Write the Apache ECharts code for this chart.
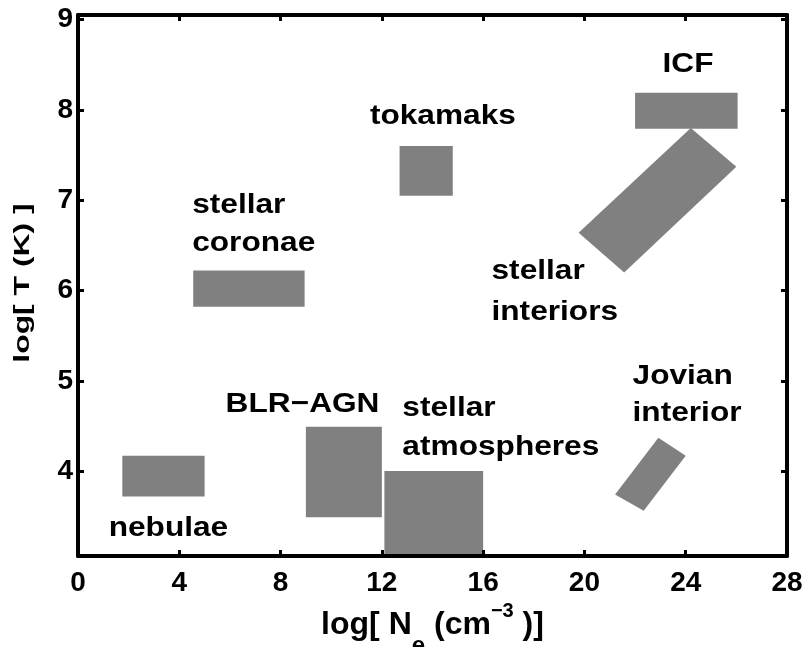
<!DOCTYPE html>
<html>
<head>
<meta charset="utf-8">
<script src="https://cdn.jsdelivr.net/npm/echarts@6/dist/echarts.min.js"></script>
<style>html,body{margin:0;padding:0;background:#fff;}#c{width:806px;height:647px;}</style>
</head>
<body>
<div id="c"></div>
<script>
// x ticks / y ticks
const xTicks = [0, 4, 8, 12, 16, 20, 24, 28];
const yTicks = [4, 5, 6, 7, 8, 9];

// Regions: vertices as [log Ne, log T]
const nebulae            = [[1.75, 3.72], [5.0, 3.72], [5.0, 4.17], [1.75, 4.17]];
const stellarCoronae     = [[4.55, 5.82], [8.95, 5.82], [8.95, 6.22], [4.55, 6.22]];
const blrAgn             = [[9.0, 3.49], [12.0, 3.49], [12.0, 4.49], [9.0, 4.49]];
const stellarAtmospheres = [[12.1, 3.0], [16.0, 3.0], [16.0, 4.0], [12.1, 4.0]];
const tokamaks           = [[12.7, 7.05], [14.8, 7.05], [14.8, 7.6], [12.7, 7.6]];
const icf                = [[22.0, 7.79], [26.05, 7.79], [26.05, 8.19], [22.0, 8.19]];
const stellarInteriors   = [[24.2, 7.8], [26.0, 7.37], [21.57, 6.2], [19.77, 6.64]];
const jovianInterior     = [[22.92, 4.37], [24.0, 4.17], [22.34, 3.56], [21.21, 3.74]];

const regions = [nebulae, stellarCoronae, blrAgn, stellarAtmospheres, tokamaks, icf, stellarInteriors, jovianInterior];

// Annotation text lines
const labelText  = ['nebulae', 'BLR\u2212AGN', 'stellar', 'atmospheres', 'stellar', 'coronae', 'tokamaks', 'ICF', 'stellar', 'interiors', 'Jovian', 'interior'];
// anchor (log Ne, log T) of each line
const labelN     = [1.21, 5.83, 12.81, 12.81, 4.51, 4.51, 14.41, 24.09, 16.33, 16.33, 21.9, 21.9];
const labelT     = [3.37, 4.74, 4.70, 4.26, 6.94, 6.52, 7.93, 8.50, 6.21, 5.76, 5.05, 4.64];
const labelAlign = ['left', 'left', 'left', 'left', 'left', 'left', 'center', 'center', 'left', 'left', 'left', 'left'];

const yTitle = 'log[ T (K) ]';

const FONT = '"Liberation Sans", Arial, Helvetica, sans-serif';
const Y_MIN = 3.06, Y_MAX = 9.05;

const chart = echarts.init(document.getElementById('c'), null, {renderer: 'canvas'});

const axisCommon = {
  z: 5,
  axisLine: {show: true, onZero: false, lineStyle: {color: '#000', width: 4}},
  axisTick: {show: true, inside: true, length: 6, lineStyle: {color: '#000', width: 3}},
  splitLine: {show: false}
};

chart.setOption({
  animation: false,
  backgroundColor: '#fff',
  grid: {left: 78, right: 19, top: 15, bottom: 91, containLabel: false, outerBoundsMode: 'none'},
  graphic: [{
    type: 'text',
    x: 23, y: 283,
    rotation: Math.PI / 2,
    scaleX: 1.45,
    style: {
      text: yTitle, fill: '#000',
      font: 'bold 22px ' + FONT,
      align: 'center', verticalAlign: 'middle',
      textAlign: 'center', textVerticalAlign: 'middle'
    }
  }],
  xAxis: [
    Object.assign({}, axisCommon, {
      type: 'value', min: 0, max: 28, interval: 4, position: 'bottom',
      axisLabel: {show: true, margin: 13, color: '#000', fontSize: 28, fontWeight: 'bold', fontFamily: FONT,
        customValues: xTicks},
      axisTick: Object.assign({}, axisCommon.axisTick, {customValues: xTicks}),
      name: '{a|log[ N}{b|e}{a| (cm}{c|\u22123}{a| )]}',
      nameLocation: 'middle', nameGap: 43,
      nameTextStyle: {
        color: '#000', fontFamily: FONT, fontWeight: 'bold',
        rich: {
          a: {fontSize: 32, fontWeight: 'bold', fontFamily: FONT, color: '#000', verticalAlign: 'top', lineHeight: 32, padding: [7, 0, 0, 0]},
          b: {fontSize: 24, fontWeight: 'bold', fontFamily: FONT, color: '#000', verticalAlign: 'top', lineHeight: 24, padding: [32, 0, 0, 0]},
          c: {fontSize: 20, fontWeight: 'bold', fontFamily: FONT, color: '#000', verticalAlign: 'top', lineHeight: 20, padding: [0, 0, 0, 0]}
        }
      }
    }),
    Object.assign({}, axisCommon, {
      type: 'value', min: 0, max: 28, interval: 4, position: 'top',
      axisLabel: {show: false},
      axisTick: Object.assign({}, axisCommon.axisTick, {customValues: xTicks})
    })
  ],
  yAxis: [
    Object.assign({}, axisCommon, {
      type: 'value', min: Y_MIN, max: Y_MAX, position: 'left',
      axisLabel: {show: true, margin: 5, color: '#000', fontSize: 28, fontWeight: 'bold', fontFamily: FONT,
        customValues: yTicks},
      axisTick: Object.assign({}, axisCommon.axisTick, {customValues: yTicks})
    }),
    Object.assign({}, axisCommon, {
      type: 'value', min: Y_MIN, max: Y_MAX, position: 'right',
      axisLabel: {show: false},
      axisTick: Object.assign({}, axisCommon.axisTick, {customValues: yTicks})
    })
  ],
  series: [
    {
      type: 'custom',
      coordinateSystem: 'cartesian2d',
      xAxisIndex: 0, yAxisIndex: 0,
      clip: true,
      silent: true,
      data: regions.map(r => [r[0][0], r[0][1]]),
      encode: {x: 0, y: 1},
      renderItem: function (params, api) {
        const poly = regions[params.dataIndex];
        return {
          type: 'polygon',
          shape: {points: poly.map(p => api.coord(p))},
          style: {fill: '#808080', stroke: null}
        };
      }
    },
    {
      type: 'custom',
      coordinateSystem: 'cartesian2d',
      xAxisIndex: 0, yAxisIndex: 0,
      silent: true,
      z: 4,
      data: labelN.map((n, i) => [n, labelT[i]]),
      encode: {x: 0, y: 1},
      renderItem: function (params, api) {
        const i = params.dataIndex;
        const pt = api.coord([labelN[i], labelT[i]]);
        return {
          type: 'text',
          x: pt[0], y: pt[1],
          scaleX: 1.13,
          style: {
            text: labelText[i], x: 0, y: 0,
            fill: '#000',
            font: 'bold 28px ' + FONT,
            align: labelAlign[i], verticalAlign: 'middle',
            textAlign: labelAlign[i], textVerticalAlign: 'middle'
          }
        };
      }
    }
  ]
});
</script>
</body>
</html>
